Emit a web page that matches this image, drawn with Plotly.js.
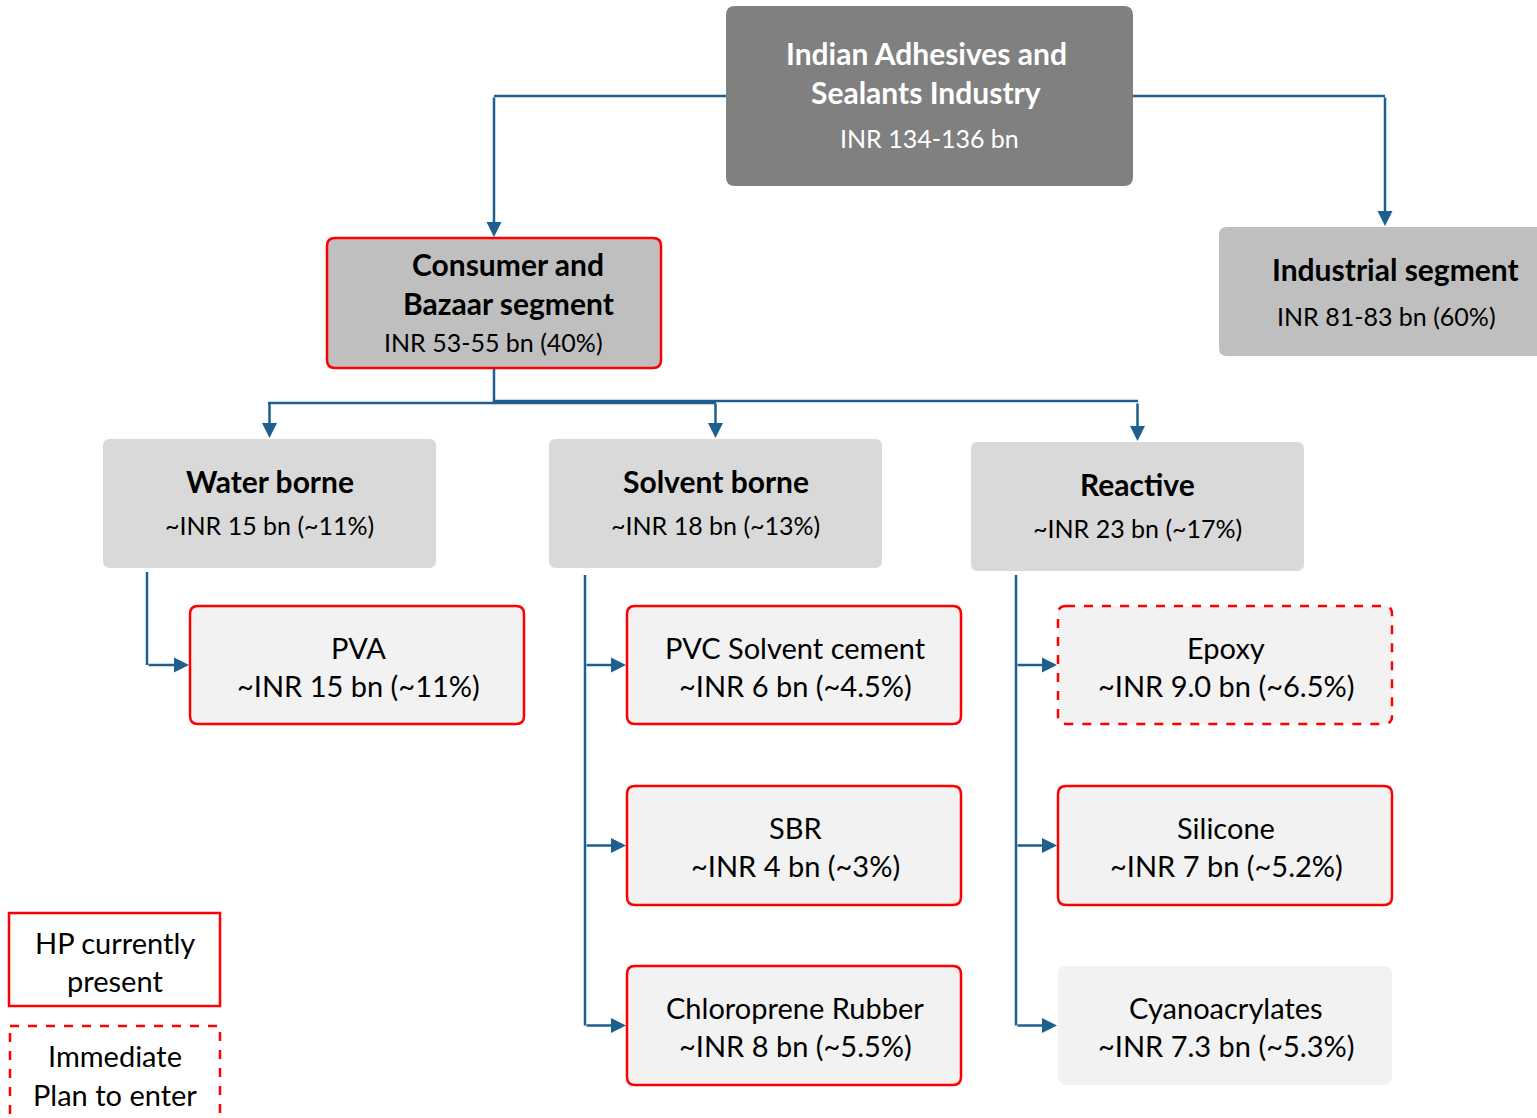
<!DOCTYPE html>
<html>
<head>
<meta charset="utf-8">
<script src="https://cdn.plot.ly/plotly-3.0.1.min.js"></script>
<style>html,body{margin:0;padding:0;background:#fff;}#chart{width:1537px;height:1118px;}</style>
</head>
<body>
<div id="chart"></div>
<script>
// ---------- DATA ----------
const rootTitle = ["Indian Adhesives and", "Sealants Industry"];
const rootValue = "INR 134-136 bn";
const segmentTitles = [["Consumer and", "Bazaar segment"], ["Industrial segment"]];
const segmentValues = ["INR 53-55 bn (40%)", "INR 81-83 bn (60%)"];
const technologyNames = ["Water borne", "Solvent borne", "Reactive"];
const technologyValues = ["~INR 15 bn (~11%)", "~INR 18 bn (~13%)", "~INR 23 bn (~17%)"];
const productNames = ["PVA", "PVC Solvent cement", "SBR", "Chloroprene Rubber", "Epoxy", "Silicone", "Cyanoacrylates"];
const productValues = ["~INR 15 bn (~11%)", "~INR 6 bn (~4.5%)", "~INR 4 bn (~3%)", "~INR 8 bn (~5.5%)", "~INR 9.0 bn (~6.5%)", "~INR 7 bn (~5.2%)", "~INR 7.3 bn (~5.3%)"];
const productParent = [0, 1, 1, 1, 2, 2, 2];
const productStatus = ["present", "present", "present", "present", "plan", "present", "none"];
const legendLabels = [["HP currently", "present"], ["Immediate", "Plan to enter"]];
const legendStatus = ["present", "plan"];

// ---------- LAYOUT (pixel geometry) ----------
const FONT = "Lato, 'Open Sans', sans-serif";
const BLUE = "#1d5f8e";
const RED = "#ff0000";
const BOLD_SIZE = 30, SMALL_SIZE = 25, PROD_SIZE = 29, LEG_SIZE = 29;
const rootBox = {x0: 726, x1: 1133, y0: 6, y1: 186};
const rootLineY = [53, 92, 138];
const segBoxes = [{x0: 327, x1: 661, y0: 238, y1: 368}, {x0: 1219, x1: 1560, y0: 227, y1: 356}];
const segTitleY = [[264, 303], [269]];
const segTitleX = [508, 1395];
const segValueY = [342, 316];
const segValueX = [493, 1386];
const techBoxes = [{x0: 103, x1: 436, y0: 439, y1: 568}, {x0: 549, x1: 882, y0: 439, y1: 568}, {x0: 971, x1: 1304, y0: 442, y1: 571}];
const techTitleY = [481, 481, 484];
const techValueY = [525, 525, 528];
const prodBoxes = [
  {x0: 190, x1: 524, y0: 606, y1: 724},
  {x0: 627, x1: 961, y0: 606, y1: 724},
  {x0: 627, x1: 961, y0: 786, y1: 905},
  {x0: 627, x1: 961, y0: 966, y1: 1085},
  {x0: 1058, x1: 1392, y0: 606, y1: 724},
  {x0: 1058, x1: 1392, y0: 786, y1: 905},
  {x0: 1058, x1: 1392, y0: 966, y1: 1085}
];
const legBoxes = [{x0: 9, x1: 220, y0: 913, y1: 1006}, {x0: 10, x1: 220, y0: 1026, y1: 1130}];
const legLineY = [[942, 980], [1055, 1094]];
const techTrunkX = [147, 585, 1016];
const techTrunkTop = [572, 575, 575];

const shapes = [];
const annotations = [];

function rrect(b, r) {
  return `M${b.x0 + r},${b.y0} L${b.x1 - r},${b.y0} Q${b.x1},${b.y0} ${b.x1},${b.y0 + r} L${b.x1},${b.y1 - r} Q${b.x1},${b.y1} ${b.x1 - r},${b.y1} L${b.x0 + r},${b.y1} Q${b.x0},${b.y1} ${b.x0},${b.y1 - r} L${b.x0},${b.y0 + r} Q${b.x0},${b.y0} ${b.x0 + r},${b.y0} Z`;
}
function box(b, fill, status, r) {
  const line = status === "present" ? {color: RED, width: 2.5} :
               status === "plan" ? {color: RED, width: 2.5, dash: "dash"} :
               {width: 0};
  shapes.push({type: "path", xref: "x", yref: "y", path: rrect(b, r === undefined ? 8 : r), fillcolor: fill, line: line, layer: "above"});
}
function text(x, y, t, size, color, bold) {
  annotations.push({x: x, y: y, xref: "x", yref: "y", text: bold ? "<b>" + t + "</b>" : t, showarrow: false,
    xanchor: "center", yanchor: "middle", font: {family: FONT, size: size, color: color || "#000"}});
}
function seg(x0, y0, x1, y1) {
  shapes.push({type: "line", xref: "x", yref: "y", x0: x0, y0: y0, x1: x1, y1: y1, line: {color: BLUE, width: 2.5}, layer: "below"});
}
function arrow(tx, ty, hx, hy) {
  annotations.push({x: hx, y: hy, ax: tx, ay: ty, xref: "x", yref: "y", axref: "x", ayref: "y", text: "",
    showarrow: true, arrowhead: 2, arrowsize: 1.2, arrowwidth: 2.5, arrowcolor: BLUE, standoff: 0});
}

// root
box(rootBox, "#808080", "none", 9);
text(926, rootLineY[0], rootTitle[0], BOLD_SIZE, "#fff", true);
text(926, rootLineY[1], rootTitle[1], BOLD_SIZE, "#fff", true);
text(929, rootLineY[2], rootValue, SMALL_SIZE, "#fff", false);

// connectors root -> segments
seg(rootBox.x0, 96, 494, 96);
arrow(494, 96, 494, 237);
seg(rootBox.x1, 96, 1385, 96);
arrow(1385, 96, 1385, 226);

// segments
segBoxes.forEach((b, i) => {
  box(b, "#bfbfbf", i === 0 ? "present" : "none", 8);
  segTitleY[i].forEach((y, k) => text(segTitleX[i], y, segmentTitles[i][k], BOLD_SIZE, "#000", true));
  text(segValueX[i], segValueY[i], segmentValues[i], SMALL_SIZE, "#000", false);
});

// connectors consumer -> technologies
seg(494, segBoxes[0].y1, 494, 402);
seg(268, 403, 716, 403);
seg(494, 401, 1138, 401);
const techCx = techBoxes.map(b => (b.x0 + b.x1) / 2);
techCx.forEach((cx, i) => arrow(cx, 402, cx, techBoxes[i].y0 - 1));

// technologies
techBoxes.forEach((b, i) => {
  box(b, "#d9d9d9", "none", 7);
  text(techCx[i], techTitleY[i], technologyNames[i], BOLD_SIZE, "#000", true);
  text(techCx[i], techValueY[i], technologyValues[i], SMALL_SIZE, "#000", false);
});

// product connectors
productNames.forEach((n, i) => {
  const p = productParent[i];
  const b = prodBoxes[i];
  const cy = (b.y0 + b.y1) / 2;
  arrow(techTrunkX[p], cy, b.x0 - 1, cy);
});
techTrunkX.forEach((x, p) => {
  const kids = prodBoxes.filter((b, i) => productParent[i] === p);
  const last = kids[kids.length - 1];
  seg(x, techTrunkTop[p], x, (last.y0 + last.y1) / 2);
});

// products
productNames.forEach((n, i) => {
  const b = prodBoxes[i];
  const cx = (b.x0 + b.x1) / 2;
  box(b, "#f2f2f2", productStatus[i], 8);
  text(cx + 1, b.y0 + 41, n, PROD_SIZE, "#000", false);
  text(cx + 1, b.y0 + 79, productValues[i], PROD_SIZE, "#000", false);
});

// legend
legBoxes.forEach((b, i) => {
  box(b, "#ffffff", legendStatus[i], 0);
  legLineY[i].forEach((y, k) => text(115, y, legendLabels[i][k], LEG_SIZE, "#000", false));
});

const layout = {
  width: 1537, height: 1118,
  margin: {l: 0, r: 0, t: 0, b: 0},
  paper_bgcolor: "#fff", plot_bgcolor: "#fff",
  showlegend: false,
  xaxis: {range: [0, 1537], visible: false, fixedrange: true},
  yaxis: {range: [1118, 0], visible: false, fixedrange: true},
  shapes: shapes,
  annotations: annotations
};
Plotly.newPlot("chart", [{x: [0], y: [0], mode: "markers", marker: {opacity: 0}, hoverinfo: "skip"}], layout, {staticPlot: true});
</script>
</body>
</html>
